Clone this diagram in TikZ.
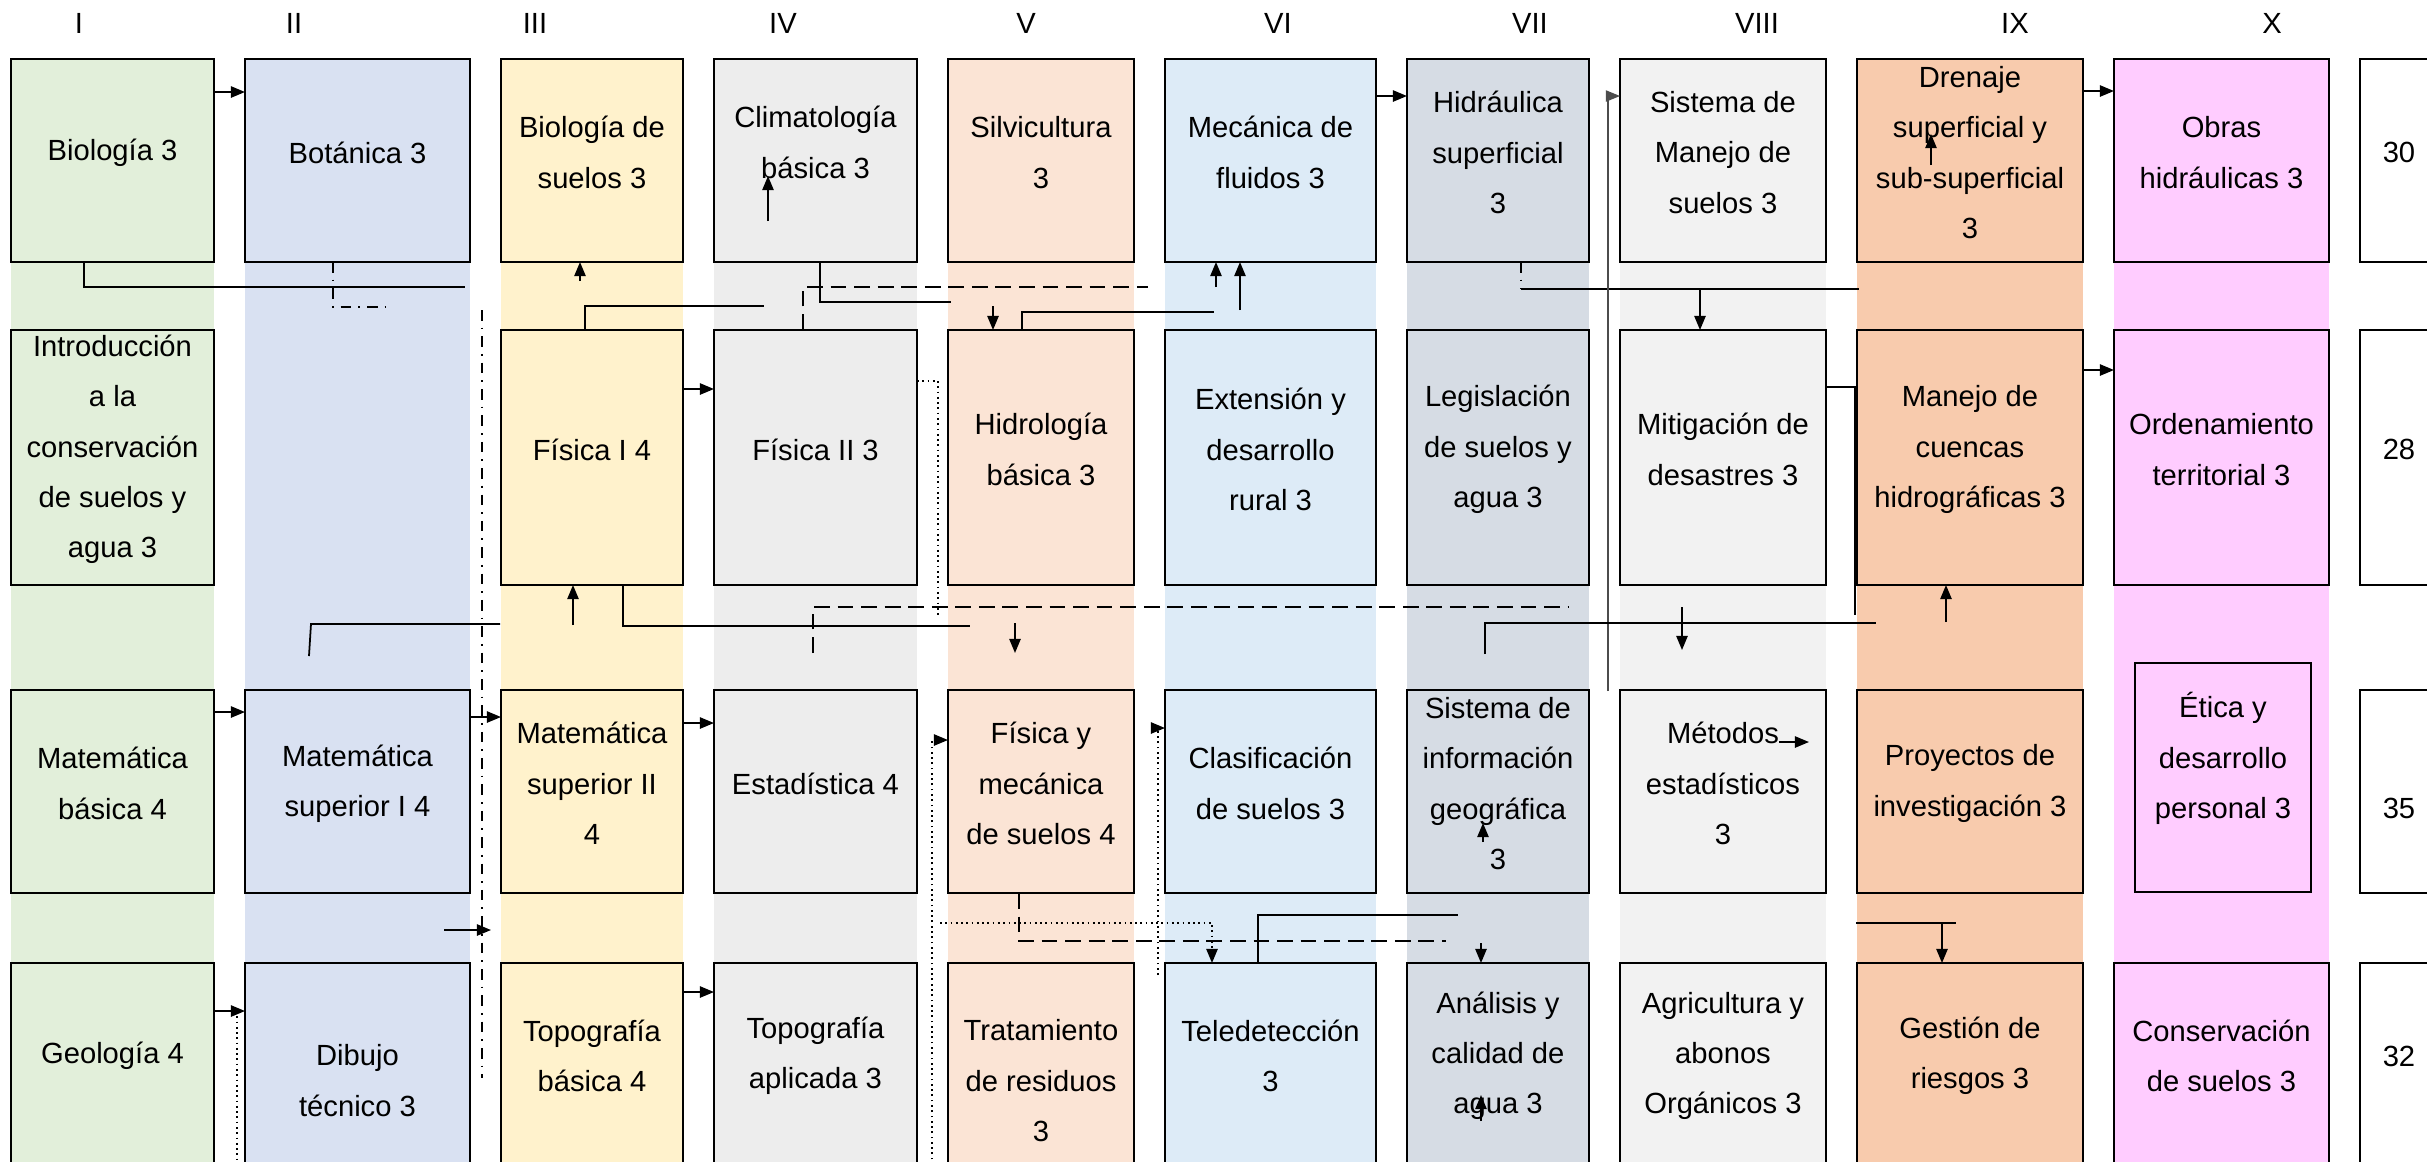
\documentclass[tikz,border=0pt]{standalone}
\usepackage{fontspec}
\setmainfont{Liberation Sans}
\usetikzlibrary{arrows.meta,positioning,backgrounds}
\definecolor{colI}{HTML}{E2EFDA}
\definecolor{colII}{HTML}{D9E1F2}
\definecolor{colIII}{HTML}{FFF2CC}
\definecolor{colIV}{HTML}{EDEDED}
\definecolor{colV}{HTML}{FBE4D5}
\definecolor{colVI}{HTML}{DDEBF7}
\definecolor{colVII}{HTML}{D6DCE4}
\definecolor{colVIII}{HTML}{F2F2F2}
\definecolor{colIX}{HTML}{F8CBAD}
\definecolor{colX}{HTML}{FFCCFF}
\begin{document}
\begin{tikzpicture}[x=0.1mm,y=-0.1mm,>={Triangle[length=4pt,width=3.2pt]},
        node distance=3.1mm,
        box/.style={draw,line width=0.7pt,inner sep=0pt,outer sep=0pt},
        txt/.style={align=center,inner sep=0pt,yshift=0.8mm,
          font=\fontsize{8.3}{14.3}\selectfont},
        hdr/.style={font=\fontsize{8.3}{14.3}\selectfont},
        rowA/.style={minimum height=20.3mm},
        rowB/.style={minimum height=25.5mm},
        rowC/.style={minimum height=20.3mm},
        rowD/.style={minimum height=20.2mm},
        s1/.style={fill=colI,minimum width=20.3mm},
        s2/.style={fill=colII,minimum width=22.5mm},
        s3/.style={fill=colIII,minimum width=18.2mm},
        s4/.style={fill=colIV,minimum width=20.3mm},
        s5/.style={fill=colV,minimum width=18.6mm},
        s6/.style={fill=colVI,minimum width=21.1mm},
        s7/.style={fill=colVII,minimum width=18.2mm},
        s8/.style={fill=colVIII,minimum width=20.6mm},
        s9/.style={fill=colIX,minimum width=22.6mm},
        s10/.style={fill=colX,minimum width=21.5mm},
        tot/.style={fill=white,minimum width=7.8mm},
        lin/.style={line width=0.5pt},
        arr/.style={lin,->},
        dsh/.style={dash pattern=on 4.5pt off 2.2pt},
        hair/.style={line width=0.3pt,black!70}]

  \useasboundingbox (0,0) rectangle (2427,1161);

  \node[hdr] (hI) at (79,23) {I};
  \node[hdr] (hII) at (294,23) {II};
  \node[hdr] (hIII) at (535,23) {III};
  \node[hdr] (hIV) at (783,23) {IV};
  \node[hdr] (hV) at (1026,23) {V};
  \node[hdr] (hVI) at (1278,23) {VI};
  \node[hdr] (hVII) at (1530,23) {VII};
  \node[hdr] (hVIII) at (1757,23) {VIII};
  \node[hdr] (hIX) at (2015,23) {IX};
  \node[hdr] (hX) at (2272,23) {X};

  \node[box,s1,rowA,anchor=north west,label={[txt]center:Biología 3}] (bio) at (11,59) {};
  \node[box,s2,rowA,label={[txt]center:Botánica 3}] (bot) [right=of bio] {};
  \node[box,s3,rowA,label={[txt]center:Biología de\\suelos 3}] (biosue) [right=of bot] {};
  \node[box,s4,rowA,label={[txt,yshift=1mm]center:Climatología\\básica 3}] (clima) [right=of biosue] {};
  \node[box,s5,rowA,label={[txt]center:Silvicultura\\3}] (silvi) [right=of clima] {};
  \node[box,s6,rowA,label={[txt]center:Mecánica de\\fluidos 3}] (mecflu) [right=of silvi] {};
  \node[box,s7,rowA,label={[txt]center:Hidráulica\\superficial\\3}] (hidsup) [right=of mecflu] {};
  \node[box,s8,rowA,label={[txt]center:Sistema de\\Manejo de\\suelos 3}] (sisman) [right=of hidsup] {};
  \node[box,s9,rowA,label={[txt]center:Drenaje\\superficial y\\sub-superficial\\3}] (dren) [right=of sisman] {};
  \node[box,s10,rowA,label={[txt]center:Obras\\hidráulicas 3}] (obras) [right=of dren] {};
  \node[box,tot,rowA,label={[txt]center:30}] (tA) [right=of obras] {};

  \node[box,s1,rowB,label={[txt]center:Introducción\\a la\\conservación\\de suelos y\\agua 3}] (intro) [below=6.8mm of bio] {};
  \node[box,s3,rowB,label={[txt]center:Física I 4}] (fis1) [below=6.8mm of biosue] {};
  \node[box,s4,rowB,label={[txt]center:Física II 3}] (fis2) [below=6.8mm of clima] {};
  \node[box,s5,rowB,label={[txt]center:Hidrología\\básica 3}] (hidrol) [below=6.8mm of silvi] {};
  \node[box,s6,rowB,label={[txt]center:Extensión y\\desarrollo\\rural 3}] (ext) [below=6.8mm of mecflu] {};
  \node[box,s7,rowB,label={[txt]center:Legislación\\de suelos y\\agua 3}] (legis) [below=6.8mm of hidsup] {};
  \node[box,s8,rowB,label={[txt]center:Mitigación de\\desastres 3}] (mitig) [below=6.8mm of sisman] {};
  \node[box,s9,rowB,label={[txt]center:Manejo de\\cuencas\\hidrográficas 3}] (cuencas) [below=6.8mm of dren] {};
  \node[box,s10,rowB,label={[txt]center:Ordenamiento\\territorial 3}] (orden) [below=6.8mm of obras] {};
  \node[box,tot,rowB,label={[txt]center:28}] (tB) [below=6.8mm of tA] {};

  \node[box,s1,rowC,label={[txt]center:Matemática\\básica 4}] (matbas) [below=10.5mm of intro] {};
  \node[box,s2,rowC,label={[txt]center:Matemática\\superior I 4}] (matsup1) [right=of matbas] {};
  \node[box,s3,rowC,label={[txt]center:Matemática\\superior II\\4}] (matsup2) [below=10.5mm of fis1] {};
  \node[box,s4,rowC,label={[txt]center:Estadística 4}] (estad) [below=10.5mm of fis2] {};
  \node[box,s5,rowC,label={[txt]center:Física y\\mecánica\\de suelos 4}] (fismec) [below=10.5mm of hidrol] {};
  \node[box,s6,rowC,label={[txt]center:Clasificación\\de suelos 3}] (clasif) [below=10.5mm of ext] {};
  \node[box,s7,rowC,label={[txt]center:Sistema de\\información\\geográfica\\3}] (sig) [below=10.5mm of legis] {};
  \node[box,s8,rowC,label={[txt]center:Métodos\\estadísticos\\3}] (metest) [below=10.5mm of mitig] {};
  \node[box,s9,rowC,label={[txt]center:Proyectos de\\investigación 3}] (proy) [below=10.5mm of cuencas] {};
  \node[box,fill=colX,line width=0.4pt,minimum width=17.6mm,minimum height=22.9mm,xshift=0.15mm,
        label={[txt,yshift=-1.1mm]center:Ética y\\desarrollo\\personal 3\\\vphantom{D}}] (etica) [below=7.8mm of orden] {};
  \node[box,tot,rowC,label={[txt]center:\vphantom{D}\\35}] (tC) [below=10.5mm of tB] {};

  \node[box,s1,rowD,label={[txt]center:Geología 4}] (geol) [below=7mm of matbas] {};
  \node[box,s2,rowD,label={[txt]center:\vphantom{D}\\Dibujo\\técnico 3}] (dibujo) [below=7mm of matsup1] {};
  \node[box,s3,rowD,label={[txt]center:Topografía\\básica 4}] (topob) [below=7mm of matsup2] {};
  \node[box,s4,rowD,label={[txt]center:Topografía\\aplicada 3}] (topoa) [below=7mm of estad] {};
  \node[box,s5,rowD,label={[txt]center:\vphantom{D}\\Tratamiento\\de residuos\\3}] (trat) [below=7mm of fismec] {};
  \node[box,s6,rowD,label={[txt]center:Teledetección\\3}] (tele) [below=7mm of clasif] {};
  \node[box,s7,rowD,label={[txt]center:Análisis y\\calidad de\\agua 3}] (anal) [below=7mm of sig] {};
  \node[box,s8,rowD,label={[txt]center:Agricultura y\\abonos\\Orgánicos 3}] (agri) [below=7mm of metest] {};
  \node[box,s9,rowD,label={[txt]center:Gestión de\\riesgos 3}] (gest) [below=7mm of proy] {};
  \node[box,s10,rowD,label={[txt]center:Conservación\\de suelos 3}] (conserv) [below=37.8mm of orden] {};
  \node[box,tot,rowD,label={[txt]center:32}] (tD) [below=7mm of tC] {};

  \begin{pgfonlayer}{background}
    \fill[colI] (bio.north west) rectangle (geol.south east);
    \fill[colII] (bot.north west) rectangle (dibujo.south east);
    \fill[colIII] (biosue.north west) rectangle (topob.south east);
    \fill[colIV] (clima.north west) rectangle (topoa.south east);
    \fill[colV] (silvi.north west) rectangle (trat.south east);
    \fill[colVI] (mecflu.north west) rectangle (tele.south east);
    \fill[colVII] (hidsup.north west) rectangle (anal.south east);
    \fill[colVIII] (sisman.north west) rectangle (agri.south east);
    \fill[colIX] (dren.north west) rectangle (gest.south east);
    \fill[colX] (obras.north west) rectangle (conserv.south east);
  \end{pgfonlayer}

  \coordinate (k1) at (84,287);    \coordinate (k1e) at (465,287);
  \coordinate (k2) at (333,307);   \coordinate (k2e) at (388,307);
  \coordinate (k3) at (580,281);
  \coordinate (k4) at (585,306);   \coordinate (k4e) at (764,306);
  \coordinate (k5) at (803,287);   \coordinate (k5e) at (1148,287);
  \coordinate (k6) at (820,302);   \coordinate (k6e) at (951,302);
  \coordinate (k7) at (993,306);
  \coordinate (k8) at (1022,312);  \coordinate (k8e) at (1214,312);
  \coordinate (k9) at (1216,287);  \coordinate (k9b) at (1240,310);
  \coordinate (k10) at (1521,289); \coordinate (k10e) at (1859,289);
  \coordinate (k11) at (1700,289);
  \coordinate (k12) at (1608,691); \coordinate (k12b) at (1608,96);
  \coordinate (k13) at (1855,387); \coordinate (k13e) at (1855,615);
  \coordinate (k14) at (1485,654); \coordinate (k14b) at (1485,623);
  \coordinate (k14e) at (1876,623);
  \coordinate (k15) at (1682,607); \coordinate (k15e) at (1682,650);
  \coordinate (k16) at (1946,622);
  \coordinate (k17) at (309,656);  \coordinate (k17b) at (311,624);
  \coordinate (k17e) at (500,624);
  \coordinate (k18) at (482,310);  \coordinate (k18e) at (482,1078);
  \coordinate (k19) at (573,625);
  \coordinate (k20) at (623,626);  \coordinate (k20e) at (970,626);
  \coordinate (k21) at (813,653);  \coordinate (k21b) at (813,607);
  \coordinate (k21e) at (1569,607);
  \coordinate (k22) at (938,381);  \coordinate (k22e) at (938,617);
  \coordinate (k23) at (1015,623); \coordinate (k23e) at (1015,653);
  \coordinate (k24) at (0,712);    \coordinate (k25) at (0,717);
  \coordinate (k26) at (0,723);
  \coordinate (k27) at (444,930);  \coordinate (k27e) at (491,930);
  \coordinate (k28) at (237,1011); \coordinate (k28e) at (237,1170);
  \coordinate (k29) at (0,992);    \coordinate (k30) at (0,389);
  \coordinate (k31) at (0,92);     \coordinate (k33) at (0,96);
  \coordinate (k34) at (0,91);     \coordinate (k35) at (0,370);
  \coordinate (k32) at (768,221);  \coordinate (k32e) at (768,176);
  \coordinate (k36) at (1931,165); \coordinate (k36e) at (1931,134);
  \coordinate (k37) at (1779,742); \coordinate (k37e) at (1809,742);
  \coordinate (k38) at (1483,842); \coordinate (k38e) at (1483,823);
  \coordinate (k39) at (1481,1121); \coordinate (k39e) at (1481,1095);
  \coordinate (k40) at (932,1170); \coordinate (k40b) at (932,740);
  \coordinate (k41) at (940,923);  \coordinate (k41b) at (1212,923);
  \coordinate (k42) at (1019,941); \coordinate (k42e) at (1446,941);
  \coordinate (k43) at (1158,975); \coordinate (k43b) at (1158,728);
  \coordinate (k44) at (1258,915); \coordinate (k44e) at (1458,915);
  \coordinate (k45) at (1481,943);
  \coordinate (k46) at (1856,923); \coordinate (k46b) at (1942,923);
  \coordinate (k46e) at (1956,923);

  \path[arr] (bio.east |- k31) edge (bot.west |- k31)
        (fis1.east |- k30) edge (fis2.west |- k30)
        (mecflu.east |- k33) edge (hidsup.west |- k33)
        (dren.east |- k34) edge (obras.west |- k34)
        (cuencas.east |- k35) edge (orden.west |- k35)
        (matbas.east |- k24) edge (matsup1.west |- k24)
        (matsup1.east |- k25) edge (matsup2.west |- k25)
        (matsup2.east |- k26) edge (estad.west |- k26)
        (geol.east |- k28) edge (dibujo.west |- k28)
        (topob.east |- k29) edge (topoa.west |- k29)
        (k3) edge (biosue.south -| k3)
        (k7) edge (hidrol.north -| k7)
        (k9) edge (mecflu.south -| k9)
        (k9b) edge (mecflu.south -| k9b)
        (k11) edge (mitig.north -| k11)
        (k15) edge (k15e)
        (k16) edge (cuencas.south -| k16)
        (k19) edge (fis1.south -| k19)
        (k23) edge (k23e)
        (k27) edge (k27e)
        (k32) edge (k32e)
        (k36) edge (k36e)
        (k37) edge (k37e)
        (k38) edge (k38e)
        (k39) edge (k39e)
        (k45) edge (anal.north -| k45)
        (k46b) edge (gest.north -| k46b);

  \draw[lin] (bio.south -| k1) -- (k1) -- (k1e);
  \draw[lin,dashdotted] (bot.south -| k2) -- (k2) -- (k2e);
  \draw[lin] (fis1.north -| k4) -- (k4) -- (k4e);
  \draw[lin,dsh] (fis2.north -| k5) -- (k5) -- (k5e);
  \draw[lin] (clima.south -| k6) -- (k6) -- (k6e);
  \draw[lin] (hidrol.north -| k8) -- (k8) -- (k8e);
  \draw[lin,dashdotted] (hidsup.south -| k10) -- (k10);
  \draw[lin] (k10) -- (k10e);
  \draw[hair,->] (k12) -- (k12b) -- (sisman.west |- k12b);
  \draw[lin] (mitig.east |- k13) -- (k13) -- (k13e);
  \draw[lin] (k14) -- (k14b) -- (k14e);
  \draw[lin] (k17) -- (k17b) -- (k17e);
  \draw[lin,dashdotted] (k18) -- (k18e);
  \draw[lin] (fis1.south -| k20) -- (k20) -- (k20e);
  \draw[lin,dsh] (k21) -- (k21b) -- (k21e);
  \draw[lin,densely dotted] (fis2.east |- k22) -- (k22) -- (k22e);
  \draw[lin,densely dotted] (k28) -- (k28e);
  \draw[lin,densely dotted,->] (k40) -- (k40b) -- (fismec.west |- k40b);
  \draw[lin,densely dotted,->] (k41) -- (k41b) -- (tele.north -| k41b);
  \draw[lin,dsh] (fismec.south -| k42) -- (k42) -- (k42e);
  \draw[lin,densely dotted,->] (k43) -- (k43b) -- (clasif.west |- k43b);
  \draw[lin] (tele.north -| k44) -- (k44) -- (k44e);
  \draw[lin] (k46) -- (k46e);

\end{tikzpicture}
\end{document}
